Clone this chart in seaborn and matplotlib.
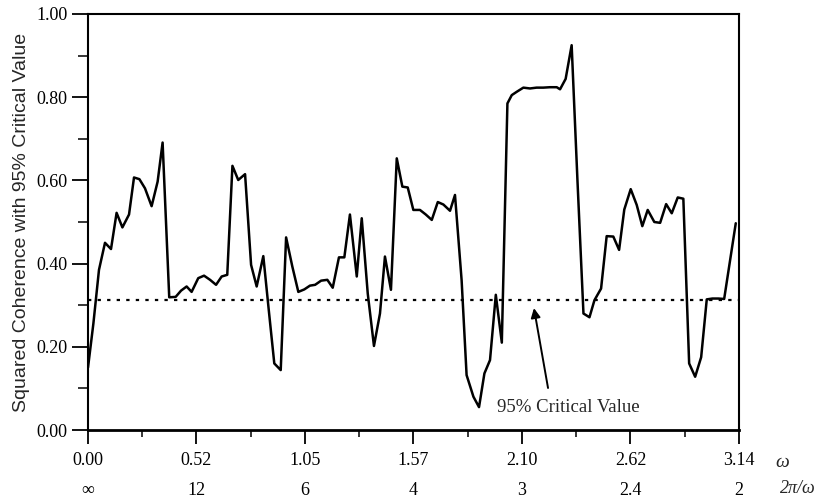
import numpy as np
import pandas as pd
import matplotlib
matplotlib.use("Agg")
import matplotlib.pyplot as plt
from matplotlib.ticker import FixedLocator
import seaborn as sns

# ---- data ----
omega = [0.000, 0.026, 0.053, 0.082, 0.111, 0.138, 0.166, 0.198, 0.222, 0.248,
         0.275, 0.307, 0.336, 0.360, 0.392, 0.423, 0.449, 0.476, 0.500, 0.532,
         0.560, 0.589, 0.618, 0.645, 0.672, 0.697, 0.725, 0.758, 0.787, 0.814,
         0.846, 0.872, 0.899, 0.930, 0.956, 0.986, 1.015, 1.044, 1.071, 1.096,
         1.125, 1.155, 1.181, 1.211, 1.237, 1.264, 1.297, 1.321, 1.350, 1.380,
         1.409, 1.433, 1.462, 1.490, 1.517, 1.543, 1.570, 1.602, 1.630, 1.659,
         1.688, 1.715, 1.747, 1.771, 1.803, 1.827, 1.860, 1.887, 1.913, 1.940,
         1.968, 1.997, 2.024, 2.045, 2.069, 2.101, 2.133, 2.165, 2.197, 2.230,
         2.262, 2.278, 2.305, 2.334, 2.362, 2.391, 2.420, 2.444, 2.476, 2.503,
         2.535, 2.563, 2.588, 2.619, 2.648, 2.675, 2.701, 2.733, 2.761, 2.790,
         2.817, 2.846, 2.873, 2.901, 2.930, 2.959, 2.986, 3.013, 3.042, 3.070,
         3.126]
coherence = [0.150, 0.256, 0.385, 0.450, 0.435, 0.522, 0.487, 0.518, 0.607, 0.603,
             0.581, 0.538, 0.597, 0.691, 0.319, 0.320, 0.335, 0.345, 0.332, 0.365,
             0.371, 0.361, 0.349, 0.369, 0.373, 0.635, 0.601, 0.615, 0.397, 0.345,
             0.418, 0.290, 0.160, 0.144, 0.463, 0.393, 0.332, 0.338, 0.347, 0.349,
             0.359, 0.361, 0.342, 0.415, 0.415, 0.518, 0.369, 0.509, 0.328, 0.202,
             0.280, 0.417, 0.337, 0.653, 0.585, 0.583, 0.529, 0.529, 0.518, 0.505,
             0.548, 0.542, 0.527, 0.565, 0.360, 0.132, 0.080, 0.055, 0.136, 0.168,
             0.325, 0.210, 0.785, 0.805, 0.813, 0.823, 0.821, 0.823, 0.823, 0.824,
             0.824, 0.819, 0.844, 0.925, 0.600, 0.280, 0.271, 0.312, 0.340, 0.466,
             0.465, 0.433, 0.530, 0.579, 0.541, 0.490, 0.529, 0.500, 0.498, 0.543,
             0.521, 0.559, 0.556, 0.160, 0.128, 0.175, 0.314, 0.316, 0.316, 0.315,
             0.497]
critical_value = 0.3125

x_ticks = [0.0, np.pi / 6, np.pi / 3, np.pi / 2, 2 * np.pi / 3, 5 * np.pi / 6, np.pi]
omega_labels = ["0.00", "0.52", "1.05", "1.57", "2.10", "2.62", "3.14"]
period_labels = ["\u221e", "12", "6", "4", "3", "2.4", "2"]
y_ticks = [0.0, 0.2, 0.4, 0.6, 0.8, 1.0]
y_labels = ["0.00", "0.20", "0.40", "0.60", "0.80", "1.00"]

df = pd.DataFrame({"omega": omega, "coherence": coherence})

sns.set_style("ticks")
plt.rcParams["font.family"] = ["Liberation Serif", "DejaVu Serif"]

fig = plt.figure(figsize=(8.18, 4.98), dpi=100)
ax = fig.add_axes([88 / 818, 68 / 498, (739 - 88) / 818, (430 - 14) / 498])

sns.lineplot(data=df, x="omega", y="coherence", ax=ax, color="black",
             linewidth=1.8, sort=False, estimator=None)
ax.hlines(critical_value, 0, np.pi, colors="black", linewidth=1.6,
          linestyles=[(0, (1.5, 2.8))])

ax.set_xlim(0, np.pi)
ax.set_ylim(0, 1.0)

ax.set_xticks(x_ticks)
ax.set_xticklabels([f"{a}\n{b}" for a, b in zip(omega_labels, period_labels)],
                   fontsize=13, linespacing=1.95)
ax.xaxis.set_minor_locator(FixedLocator([np.pi / 12 * k for k in (1, 3, 5, 7, 9, 11)]))
ax.set_yticks(y_ticks)
ax.set_yticklabels(y_labels, fontsize=13)
ax.yaxis.set_minor_locator(FixedLocator([0.1, 0.3, 0.5, 0.7, 0.9]))

ax.tick_params(axis="x", which="major", direction="out", length=10, width=1.3, pad=6, colors="black")
ax.tick_params(axis="x", which="minor", direction="out", length=5, width=1.3)
ax.tick_params(axis="y", which="major", direction="out", length=11.5, width=1.3, pad=3, colors="black")
ax.tick_params(axis="y", which="minor", direction="out", length=7, width=1.3)

for side in ["left", "right", "top"]:
    ax.spines[side].set_linewidth(1.5)
    ax.spines[side].set_color("black")
ax.spines["bottom"].set_linewidth(2.0)
ax.spines["bottom"].set_color("black")

ax.set_xlabel("")
ax.set_ylabel("Squared Coherence with 95% Critical Value", fontsize=14,
              family=["Liberation Sans", "DejaVu Sans"], labelpad=5)

ax.text(1.066, -0.077, "\u03c9", transform=ax.transAxes, fontsize=14,
        style="italic", ha="center", va="center")
ax.text(1.1183, -0.141, "2\u03c0/\u03c9", transform=ax.transAxes, fontsize=13,
        style="italic", ha="right", va="center")

ax.annotate("", xy=(2.152, 0.293), xytext=(2.22, 0.101),
            arrowprops=dict(arrowstyle="-|>", color="black", lw=1.4,
                            mutation_scale=14, shrinkA=0, shrinkB=0))
ax.text(2.32, 0.055, "95% Critical Value", fontsize=13.5, ha="center", va="center")

fig.savefig("out.png", dpi=100)
